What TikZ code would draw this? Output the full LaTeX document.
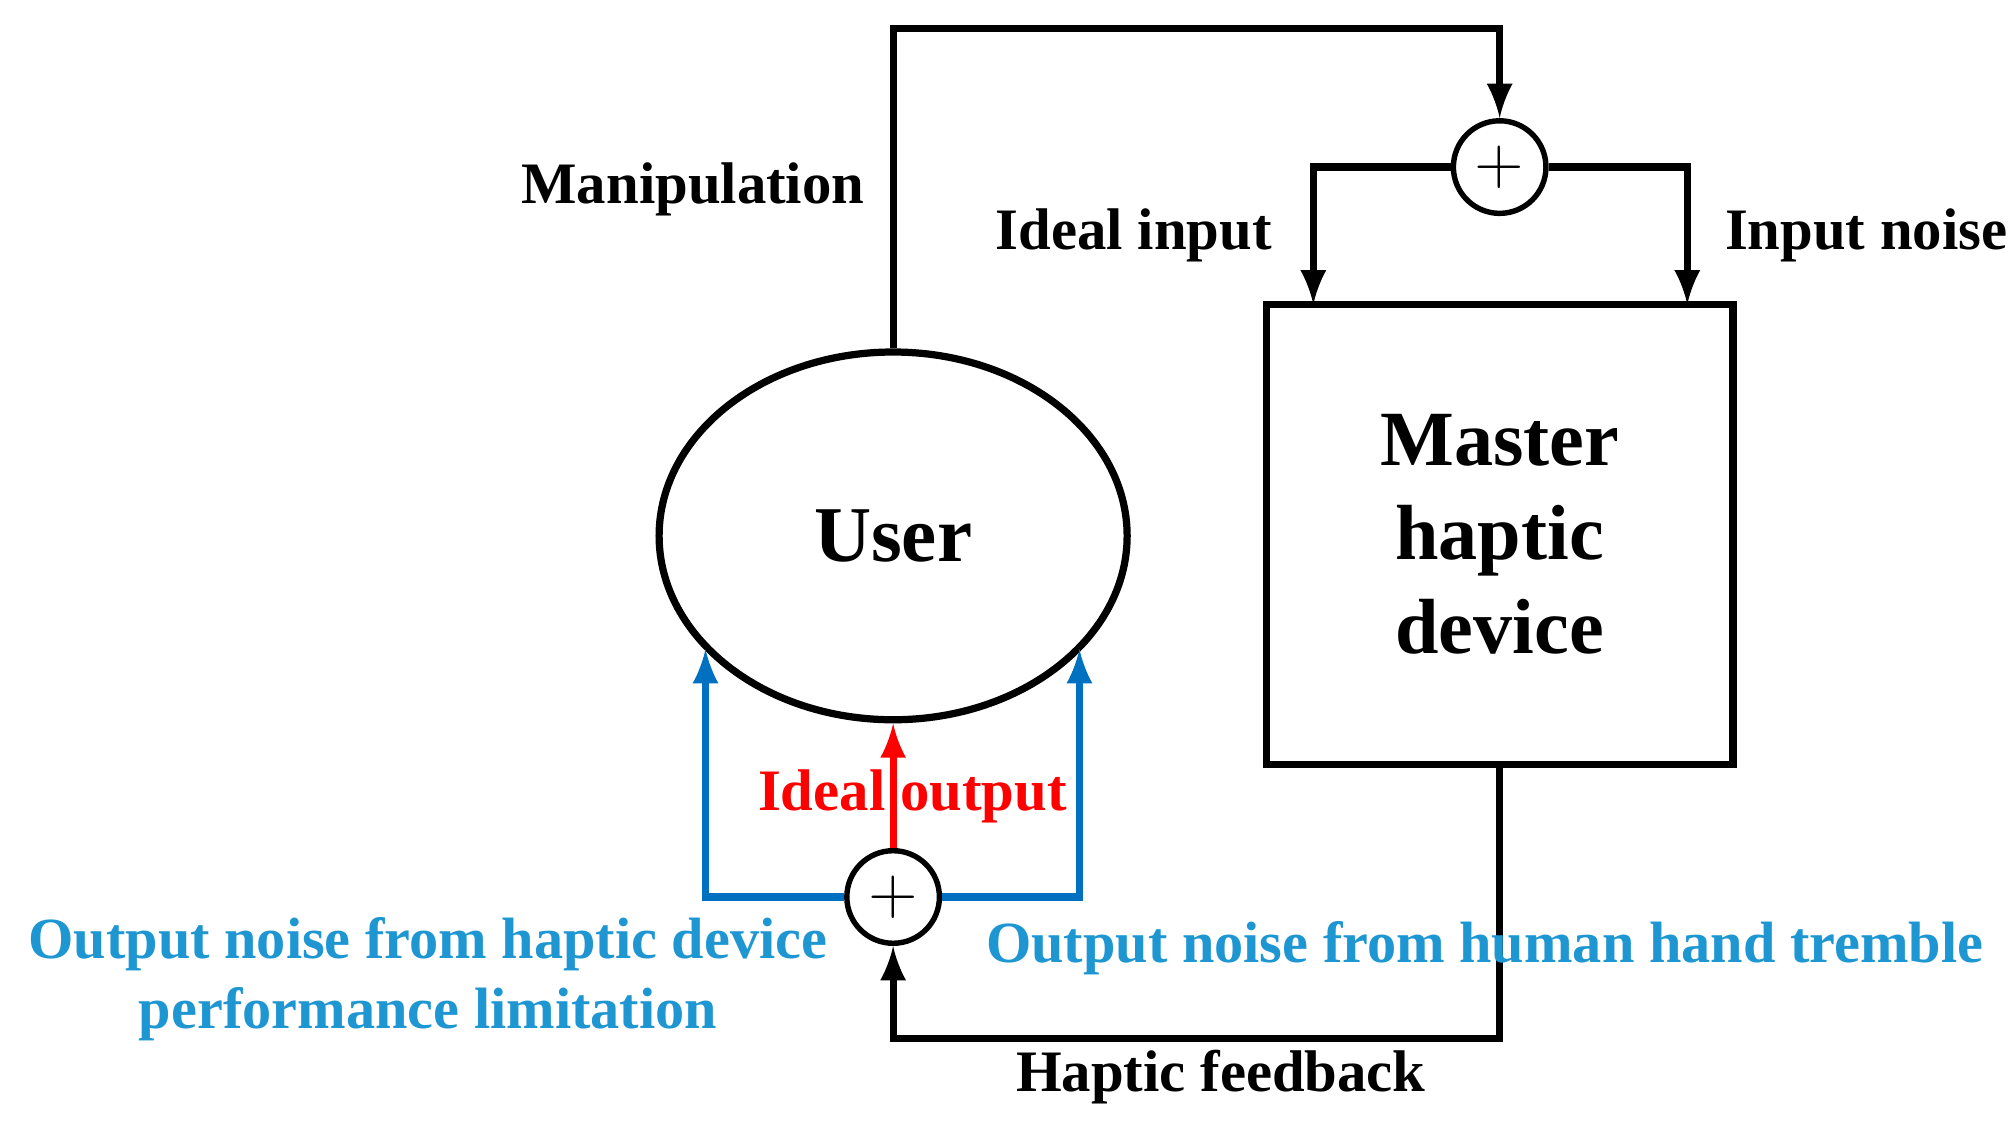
\documentclass[tikz,border=0pt]{standalone}
\usepackage{fontspec}
\setmainfont{Liberation Serif}
\usetikzlibrary{arrows,positioning,shapes.geometric}
\definecolor{noiseblue}{RGB}{0,112,192}
\definecolor{labelblue}{RGB}{30,150,210}

\begin{document}
\begin{tikzpicture}[x=0.01cm,y=-0.01cm,
      line/.style={line width=1.6pt},
      arr/.style={->,>=latex,line width=1.6pt},
      sumnode/.style={circle,draw,line width=1.2pt,minimum size=0.72cm,inner sep=0pt},
      label/.style={font={\fontsize{13}{15.6}\selectfont\bfseries}},
      bluelabel/.style={font={\fontsize{12.9}{15.6}\selectfont\bfseries},text=labelblue}]

    \useasboundingbox (0,0) rectangle (1568,878);

    %draw blocks
    \node[ellipse,draw,line width=1.6pt,minimum width=3.64cm,minimum height=2.86cm,
      font={\fontsize{17.5}{20.8}\selectfont\bfseries}] (user) at (695,417) {User};
    \node[draw,line width=1.6pt,minimum width=3.63cm,minimum height=3.58cm,align=center,
      font={\fontsize{17.3}{20.8}\selectfont\bfseries}] (master) at (1167,416) {Master\\haptic\\device};
    \node[sumnode] (sumtop) at (1167,130) {\Large $+$};
    \node[sumnode] (sumbot) at (695,698) {\Large $+$};

    %draw helper corners
    \coordinate (mtop) at (695,22);
    \coordinate (ctop) at (1167,22);
    \coordinate (ina) at (1022,237);
    \coordinate (inb) at (1313,237);
    \coordinate (bl) at (549,505);
    \coordinate (br) at (840,505);
    \coordinate (fb) at (1167,808);

    %draw connectors
    \draw[arr] (user.north) -- (mtop) -- (ctop) -- (sumtop.north);
    \draw[arr] (sumtop.west) -| (ina);
    \draw[arr] (sumtop.east) -| (inb);
    \draw[arr] (master.south) -- (fb) -| (sumbot.south);
    \draw[arr,red] (sumbot.north) -- (user.south);
    \draw[arr,noiseblue] (sumbot.west) -| (bl);
    \draw[arr,noiseblue] (sumbot.east) -| (br);

    %draw labels
    \node[label,anchor=east] (lmanip) at (685,147) {Manipulation};
    \node[label,anchor=east] (lidin) at (1002,183) {Ideal input};
    \node[label,anchor=west] (lnoise) at (1330,183) {Input noise};
    \node[label,text=red] (lidout) at (710,620) {Ideal output};
    \node[bluelabel,align=center] (lhaptic) at (333,762) {Output noise from haptic device\\performance limitation};
    \node[bluelabel,anchor=west] (lhand) at (755,738) {Output noise from human hand tremble};
    \node[label] (lfeed) at (950,838) {Haptic feedback};

\end{tikzpicture}
\end{document}
